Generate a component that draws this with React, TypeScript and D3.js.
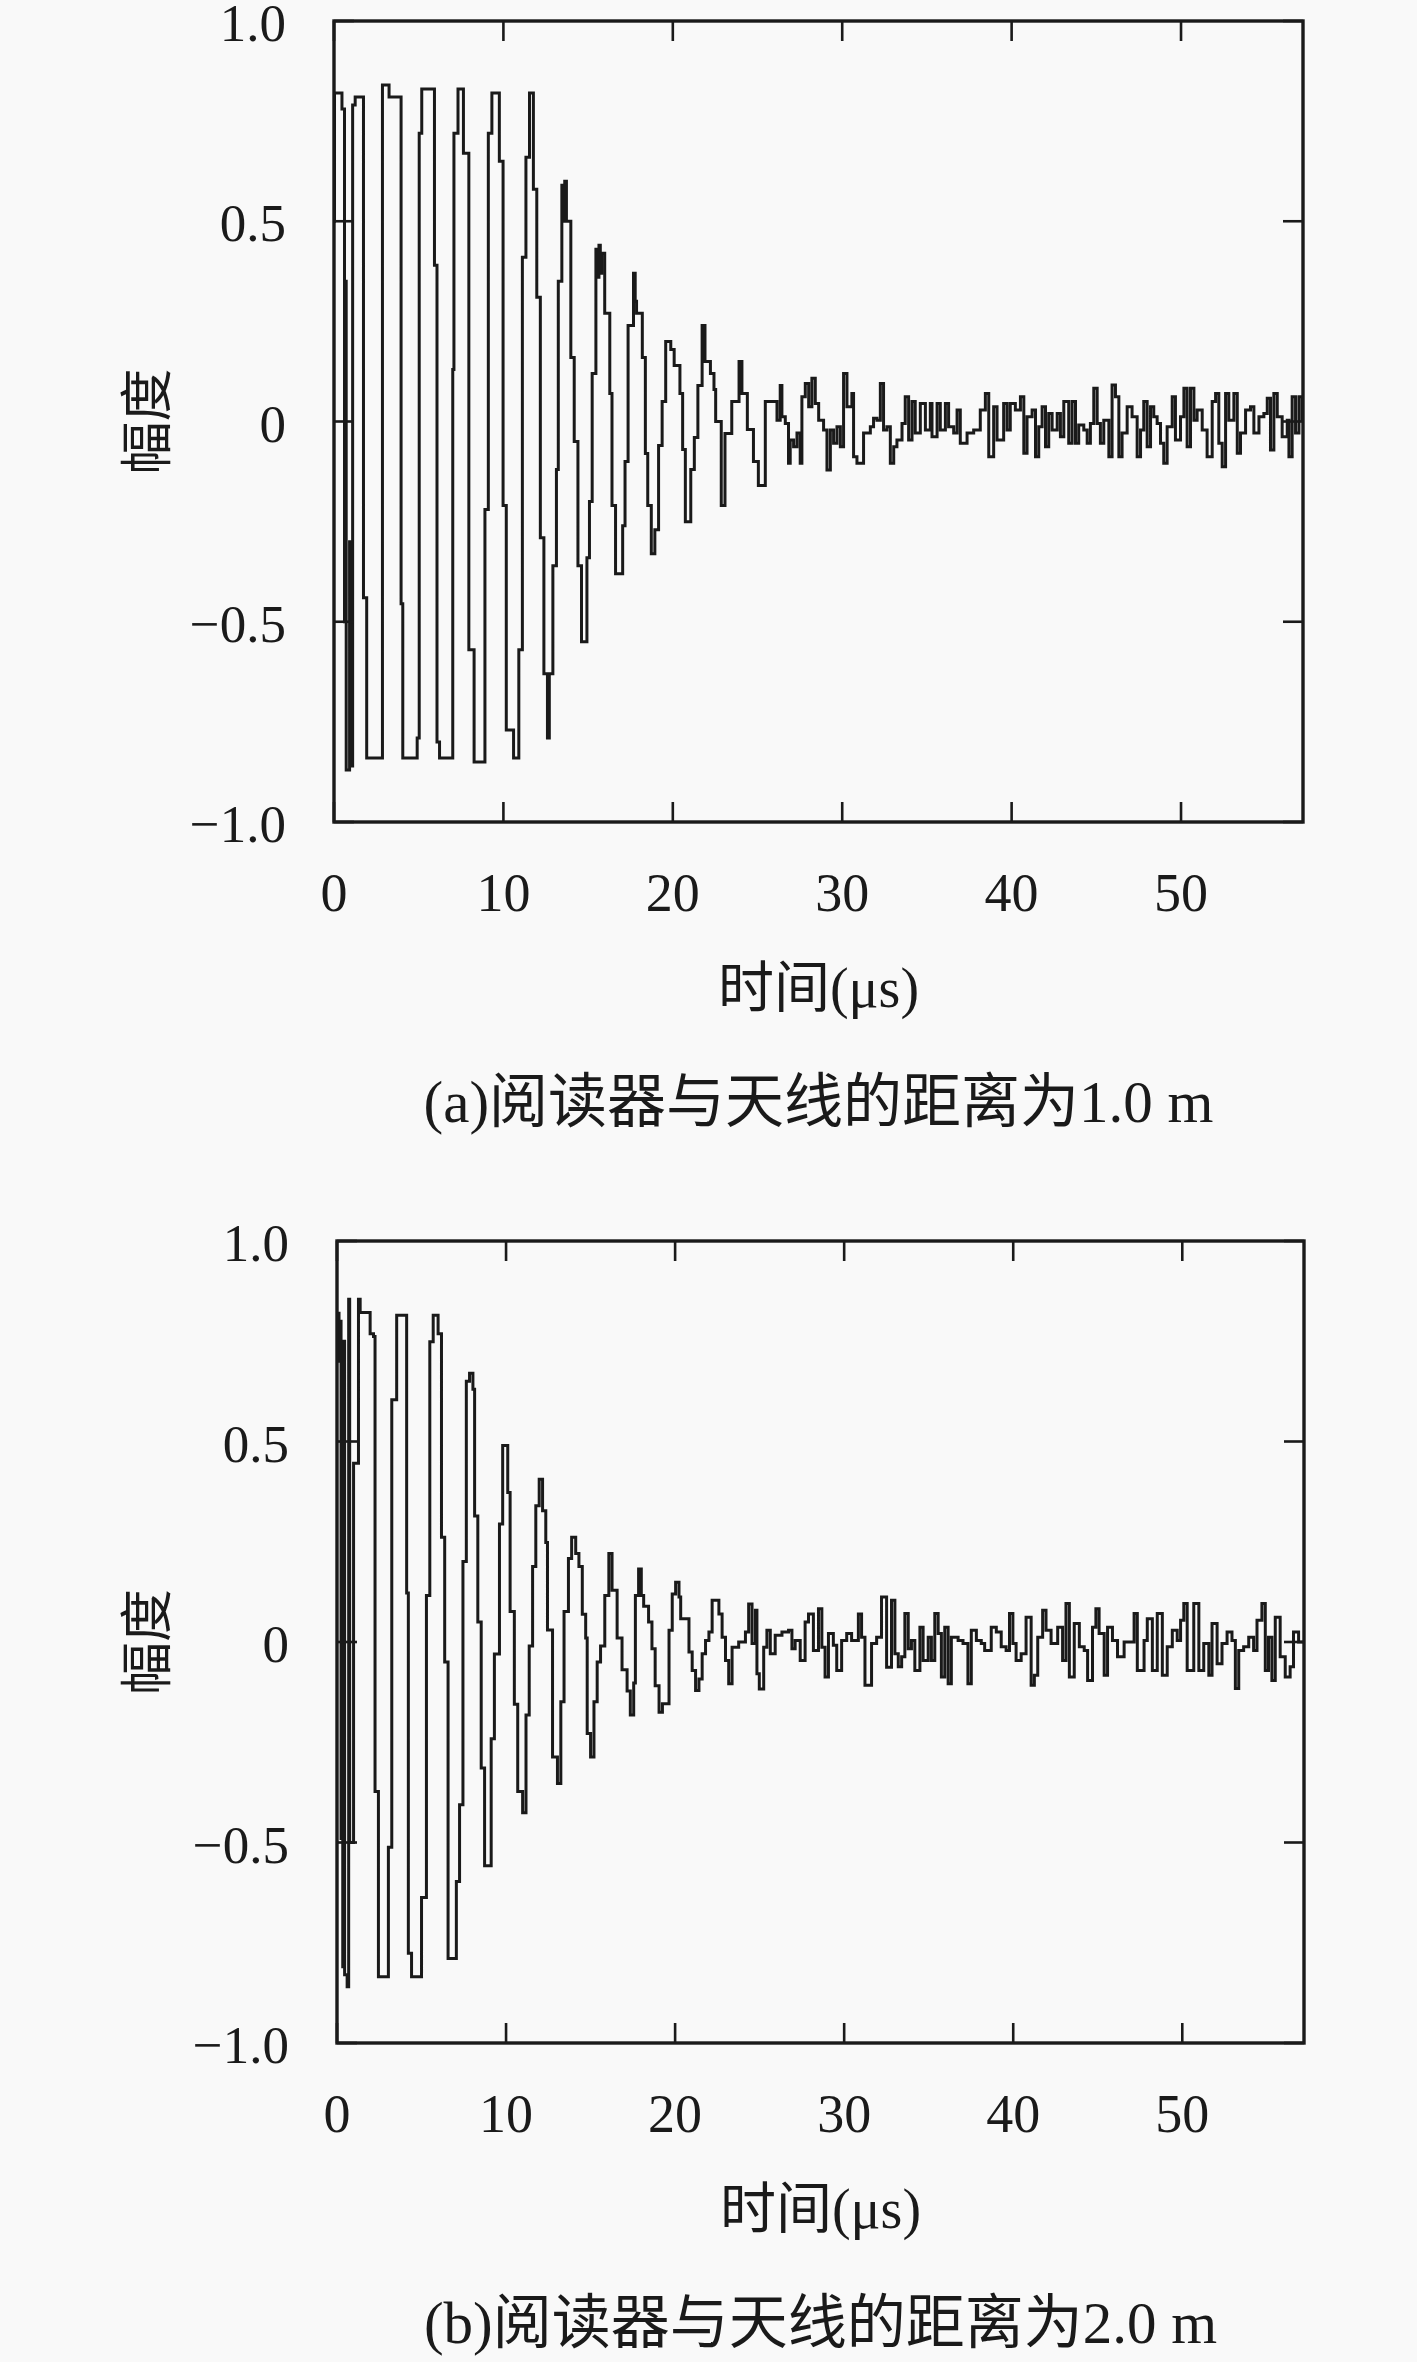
import React from 'react';
import * as d3 from 'd3';

const xTicks = [0, 10, 20, 30, 40, 50];
const yTicks = [-1, -0.5, 0, 0.5, 1];
const yTickLabels = ['−1.0', '−0.5', '0', '0.5', '1.0'];
const xMax = 57.2;
const yLabel = '幅度';
const captions = ['(a)阅读器与天线的距离为1.0 m', '(b)阅读器与天线的距离为2.0 m'];

// Panel (a): breakpoints [time µs, amplitude], held until next point
const burstA: [number, number][] = [
  [0, 0.5], [0.03, 0.82], [0.47, 0.78], [0.62, -0.5], [0.68, 0.35], [0.72, -0.87], [0.92, -0.3], [0.98, -0.86],
  [1.1, 0.79], [1.25, 0.81], [1.74, -0.44], [1.93, -0.84], [2.86, 0.84], [3.25, 0.81], [3.96, -0.455], [4.06, -0.84],
  [4.91, -0.79], [5.03, 0.72], [5.18, 0.83], [5.93, 0.39], [6.08, -0.8], [6.23, -0.84], [7.01, 0.13], [7.08, 0.72],
  [7.32, 0.83], [7.64, 0.67], [7.96, -0.57], [8.27, -0.85], [8.91, -0.22], [9.11, 0.72], [9.32, 0.82], [9.76, 0.65],
  [9.98, -0.21], [10.17, -0.77], [10.6, -0.84], [10.91, -0.57], [11.12, 0.41], [11.33, 0.66], [11.54, 0.82], [11.77, 0.58],
  [11.97, 0.31], [12.18, -0.29], [12.39, -0.63], [12.6, -0.79], [12.71, -0.63], [12.92, -0.36], [13.13, -0.12], [13.24, 0.35],
  [13.45, 0.59], [13.55, 0.5], [13.62, 0.6], [13.72, 0.5], [13.98, 0.16], [14.18, -0.05], [14.4, -0.36], [14.61, -0.55],
  [14.93, -0.34], [15.08, -0.2], [15.24, 0.12], [15.46, 0.43], [15.56, 0.36], [15.64, 0.44], [15.72, 0.37], [15.8, 0.42],
  [15.98, 0.27], [16.28, 0.07], [16.41, -0.21], [16.62, -0.38], [17.04, -0.26], [17.18, -0.1], [17.36, 0.24], [17.68, 0.37],
  [17.78, 0.3], [17.86, 0.27], [18.2, 0.16], [18.38, -0.08], [18.52, -0.21], [18.73, -0.33], [18.94, -0.27], [19.16, -0.06],
  [19.37, 0.05], [19.58, 0.2], [19.88, 0.18], [20.08, 0.14], [20.42, 0.07], [20.58, -0.07], [20.74, -0.25], [21.06, -0.12],
  [21.27, -0.04], [21.48, 0.09], [21.73, 0.24], [21.9, 0.15], [22.22, 0.12], [22.43, 0.08], [22.53, 0.0], [22.86, -0.21],
  [23.08, -0.03], [23.48, 0.05], [23.91, 0.15], [24.08, 0.07], [24.4, -0.02], [24.76, -0.1], [25.05, -0.16],
];
const noiseA: [number, number][] = [
  [25.46, 0.05], [26.15, 0.003], [26.34, 0.09], [26.44, 0.012], [26.64, -0.005], [26.83, -0.104], [26.93, -0.046],
  [27.13, -0.063], [27.33, -0.029], [27.52, -0.104], [27.62, 0.062], [27.82, 0.095], [28.02, 0.037], [28.21, 0.108],
  [28.41, 0.045], [28.61, 0.003], [28.9, -0.021], [29.1, -0.121], [29.3, -0.021], [29.49, -0.054], [29.69, -0.013],
  [29.89, -0.063], [30.08, 0.12], [30.28, 0.037], [30.57, 0.07], [30.67, -0.088], [30.87, -0.104], [31.26, -0.029],
  [31.66, -0.013], [31.85, 0.008], [32.05, 0.003], [32.25, 0.095], [32.44, -0.021], [32.64, -0.013], [32.84, -0.104],
  [33.04, -0.063], [33.23, -0.046], [33.53, -0.005], [33.72, 0.062], [33.92, -0.046], [34.12, 0.05], [34.31, -0.029],
  [34.61, 0.045], [34.91, -0.021], [35.2, 0.045], [35.3, -0.038], [35.6, 0.045], [35.79, -0.021], [36.09, 0.045],
  [36.28, -0.013], [36.58, -0.029], [36.78, 0.029], [36.97, -0.054], [37.37, -0.029], [37.76, -0.021], [38.15, 0.029],
  [38.45, 0.07], [38.65, -0.088], [38.94, 0.037], [39.14, -0.046], [39.53, 0.045], [39.73, -0.021], [39.92, 0.045],
  [40.22, 0.029], [40.52, 0.062], [40.72, -0.079], [40.91, 0.012], [41.21, 0.029], [41.41, -0.088], [41.6, -0.013],
  [41.8, 0.037], [42.0, -0.063], [42.19, 0.02], [42.39, -0.021], [42.69, 0.02], [42.88, -0.038], [43.08, 0.05],
  [43.37, -0.054], [43.57, 0.05], [43.77, -0.054], [43.96, -0.009], [44.26, -0.021], [44.46, -0.054], [44.65, -0.005],
  [44.85, 0.083], [45.05, -0.005], [45.24, -0.054], [45.44, 0.003], [45.74, -0.088], [45.93, 0.091], [46.13, 0.062],
  [46.33, -0.088], [46.52, -0.029], [46.82, 0.037], [47.11, 0.012], [47.41, -0.088], [47.61, -0.021], [47.8, 0.05],
  [48.0, -0.063], [48.2, 0.037], [48.39, 0.012], [48.59, -0.005], [48.79, -0.054], [48.98, -0.104], [49.18, -0.013],
  [49.48, 0.062], [49.67, -0.046], [49.97, 0.012], [50.17, 0.083], [50.36, -0.063], [50.56, 0.083], [50.76, 0.003],
  [50.95, 0.029], [51.25, -0.021], [51.54, -0.088], [51.84, 0.05], [52.04, 0.07], [52.23, -0.054], [52.43, -0.113],
  [52.63, 0.07], [52.82, 0.003], [53.12, 0.07], [53.32, -0.079], [53.51, -0.029], [53.81, 0.029], [54.1, 0.037],
  [54.3, -0.029], [54.6, 0.012], [54.89, 0.02], [55.09, 0.058], [55.28, -0.071], [55.48, 0.07], [55.68, 0.012],
  [55.97, -0.038], [56.27, 0.003], [56.37, -0.088], [56.56, 0.062], [56.76, -0.029], [56.96, 0.062], [57.15, 0.003],
  [57.2, 0.003],
];

// Panel (b)
const burstB: [number, number][] = [
  [0, 0.7], [0.04, 0.82], [0.12, 0.7], [0.2, 0.8], [0.24, -0.49], [0.34, -0.81], [0.39, 0.75], [0.45, -0.83],
  [0.6, -0.86], [0.69, 0.855], [0.75, -0.5], [0.98, 0.446], [1.27, 0.855], [1.37, 0.822], [1.96, 0.769], [2.16, 0.762],
  [2.25, -0.373], [2.45, -0.835], [3.04, -0.512], [3.24, 0.604], [3.53, 0.815], [4.12, 0.122], [4.22, -0.776], [4.41, -0.835],
  [5.0, -0.637], [5.29, 0.116], [5.49, 0.749], [5.69, 0.815], [5.98, 0.769], [6.18, 0.261], [6.37, -0.05], [6.57, -0.789],
  [7.06, -0.597], [7.25, -0.406], [7.45, 0.201], [7.65, 0.65], [7.84, 0.67], [8.04, 0.63], [8.14, 0.314], [8.33, 0.05],
  [8.53, -0.314], [8.73, -0.558], [9.12, -0.241], [9.31, -0.03], [9.61, 0.294], [9.8, 0.49], [10.1, 0.373], [10.24, 0.076],
  [10.49, -0.155], [10.69, -0.373], [10.98, -0.426], [11.18, -0.182], [11.37, -0.01], [11.57, 0.188], [11.76, 0.34],
  [11.96, 0.406], [12.16, 0.327], [12.35, 0.248], [12.45, 0.03], [12.75, -0.287], [13.04, -0.353], [13.24, -0.149],
  [13.43, 0.076], [13.69, 0.208], [13.88, 0.261], [14.12, 0.221], [14.31, 0.188], [14.51, 0.069], [14.71, 0.01],
  [14.8, -0.228], [15.0, -0.287], [15.2, -0.149], [15.39, -0.05], [15.59, -0.01], [15.84, 0.116], [16.08, 0.221],
  [16.27, 0.129], [16.57, 0.01], [16.86, -0.069], [17.16, -0.122], [17.35, -0.182], [17.55, -0.102], [17.65, 0.116],
  [17.84, 0.182], [18.0, 0.116], [18.14, 0.089], [18.43, 0.05], [18.63, -0.017], [18.82, -0.109], [19.05, -0.175],
  [19.25, -0.154], [19.64, 0.029], [19.83, 0.12], [20.03, 0.149], [20.23, 0.112], [20.33, 0.058], [20.82, -0.025],
  [21.01, -0.071], [21.21, -0.121], [21.41, -0.092], [21.6, -0.029], [21.8, 0.004], [22.0, 0.025], [22.19, 0.104],
  [22.59, 0.07], [22.78, 0.012], [22.98, -0.046], [23.17, -0.104], [23.37, -0.013],
];
const noiseB: [number, number][] = [
  [23.76, 0], [24.16, 0.025], [24.35, 0.095], [24.55, -0.004], [24.75, 0.079], [24.84, -0.079], [24.98, -0.117],
  [25.24, -0.013], [25.43, 0.029], [25.63, -0.029], [25.92, 0.017], [26.32, 0.025], [26.71, 0.029], [26.91, -0.017],
  [27.1, 0.004], [27.4, -0.046], [27.69, 0.05], [27.89, 0.07], [28.18, -0.021], [28.48, 0.083], [28.68, -0.013],
  [28.87, -0.087], [29.07, 0.021], [29.36, -0.008], [29.56, -0.071], [29.85, 0.004], [30.15, 0.021], [30.44, 0.004],
  [30.84, 0.07], [31.03, 0.012], [31.23, -0.108], [31.62, -0.004], [31.92, 0.012], [32.21, 0.112], [32.51, -0.063],
  [32.8, 0.104], [33.0, -0.029], [33.2, -0.062], [33.4, -0.037], [33.59, 0.071], [33.79, -0.017], [33.98, 0.004],
  [34.18, -0.071], [34.48, 0.037], [34.67, -0.046], [34.97, 0.012], [35.16, -0.046], [35.36, 0.071], [35.56, 0.021],
  [35.75, -0.087], [35.95, 0.037], [36.15, -0.104], [36.34, 0.012], [36.74, 0.004], [37.03, -0.004], [37.32, -0.104],
  [37.52, 0.029], [37.82, 0.004], [38.11, -0.004], [38.31, -0.021], [38.7, 0.037], [39.0, 0.025], [39.29, -0.012],
  [39.58, -0.021], [39.78, 0.071], [39.98, -0.004], [40.17, -0.046], [40.47, -0.029], [40.76, 0.062], [41.06, -0.108],
  [41.25, -0.083], [41.45, 0.012], [41.74, 0.079], [41.94, 0.029], [42.24, -0.004], [42.63, 0.037], [42.92, -0.046],
  [43.12, 0.096], [43.32, -0.087], [43.61, 0.046], [43.91, -0.012], [44.2, -0.021], [44.4, -0.096], [44.69, 0.037],
  [44.89, 0.083], [45.08, 0.021], [45.38, -0.083], [45.58, 0.037], [45.87, 0.004], [46.17, -0.037], [46.56, 0],
  [47.15, 0.071], [47.34, -0.071], [47.74, 0.004], [47.93, 0.058], [48.23, -0.071], [48.52, 0.071], [48.82, -0.083],
  [49.11, -0.012], [49.41, 0.029], [49.7, 0.004], [49.9, 0.054], [50.09, 0.096], [50.29, -0.071], [50.68, 0.096],
  [50.98, -0.071], [51.27, -0.004], [51.57, -0.083], [51.76, 0.046], [52.06, -0.054], [52.35, -0.004], [52.65, 0.025],
  [52.94, 0.004], [53.14, -0.116], [53.34, -0.021], [53.63, -0.012], [53.93, 0.012], [54.22, -0.021], [54.42, 0.054],
  [54.71, 0.096], [54.91, -0.071], [55.1, 0.012], [55.3, -0.096], [55.5, 0.062], [55.79, -0.037], [56.09, -0.087],
  [56.38, -0.062], [56.58, 0.025], [56.88, 0], [57.2, 0],
];

const serif = "'Liberation Serif', 'Noto Sans CJK SC', serif";
const cjk = "'Noto Sans CJK SC', 'Liberation Serif', sans-serif";
const ink = '#1a1a1a';

interface PanelProps {
  id: string;
  left: number; right: number; top: number; bottom: number;
  data: [number, number][];
  caption: string;
}

function Panel({ id, left, right, top, bottom, data, caption }: PanelProps) {
  const x = d3.scaleLinear().domain([0, xMax]).range([left, right]);
  const y = d3.scaleLinear().domain([-1, 1]).range([bottom, top]);
  const line = d3.line<[number, number]>().x(d => x(d[0])).y(d => y(d[1])).curve(d3.curveStepAfter);
  const tl = 20;
  const cx = (left + right) / 2;
  return (
    <g>
      <defs>
        <clipPath id={id}>
          <rect x={left} y={top} width={right - left} height={bottom - top} />
        </clipPath>
      </defs>
      <path d={line(data) || ''} fill="none" stroke={ink} strokeWidth={3} strokeLinejoin="miter" clipPath={`url(#${id})`} />
      <rect x={left} y={top} width={right - left} height={bottom - top} fill="none" stroke={ink} strokeWidth={3.4} />
      {xTicks.map(t => (
        <g key={'x' + t}>
          <line x1={x(t)} x2={x(t)} y1={bottom} y2={bottom - tl} stroke={ink} strokeWidth={2.6} />
          <line x1={x(t)} x2={x(t)} y1={top} y2={top + tl} stroke={ink} strokeWidth={2.6} />
          <text x={x(t)} y={bottom + 89} textAnchor="middle" fontFamily={serif} fontSize={54} fill={ink}>{t}</text>
        </g>
      ))}
      {yTicks.map((v, i) => (
        <g key={'y' + v}>
          <line x1={left} x2={left + tl} y1={y(v)} y2={y(v)} stroke={ink} strokeWidth={2.6} />
          <line x1={right} x2={right - tl} y1={y(v)} y2={y(v)} stroke={ink} strokeWidth={2.6} />
          <text x={left - 48} y={y(v) + 20} textAnchor="end" fontFamily={serif} fontSize={53} fill={ink}>{yTickLabels[i]}</text>
        </g>
      ))}
      <text transform={`translate(143,${(top + bottom) / 2}) rotate(-90)`} textAnchor="middle" dominantBaseline="central"
        fontFamily={cjk} fontSize={53} fill={ink}>{yLabel}</text>
      <text x={cx} y={bottom + 185} textAnchor="middle" fontFamily={cjk} fontSize={56} fill={ink}>
        时间<tspan fontFamily={serif}>(μs)</tspan>
      </text>
      <text x={cx} y={bottom + 300} textAnchor="middle" fontFamily={serif} fontSize={59} fill={ink}>{caption}</text>
    </g>
  );
}

export default function App() {
  const dataA = [...burstA, ...noiseA];
  const dataB = [...burstB, ...noiseB];
  return (
    <svg width={1417} height={2362} viewBox="0 0 1417 2362" style={{ position: 'absolute', left: 0, top: 0, background: '#f9f9f9' }}>
      <rect x={0} y={0} width={1417} height={2362} fill="#f9f9f9" />
      <Panel id="clipA" left={334} right={1303} top={21} bottom={822} data={dataA} caption={captions[0]} />
      <Panel id="clipB" left={337} right={1304} top={1241} bottom={2043} data={dataB} caption={captions[1]} />
    </svg>
  );
}
